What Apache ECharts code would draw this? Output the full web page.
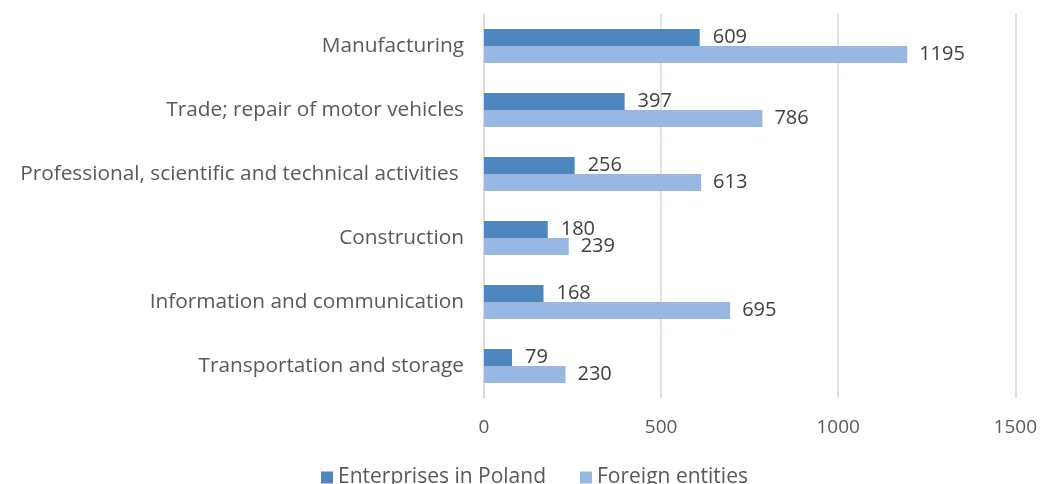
<!DOCTYPE html>
<html>
<head>
<meta charset="utf-8">
<script src="https://cdn.jsdelivr.net/npm/echarts@6/dist/echarts.min.js"></script>
<style>
  html, body { margin: 0; padding: 0; background: #fff; }
  #main { width: 1040px; height: 484px; }
</style>
</head>
<body>
<div id="main"></div>
<script>
var categories = [
    'Manufacturing',
    'Trade; repair of motor vehicles',
    'Professional, scientific and technical activities ',
    'Construction',
    'Information and communication',
    'Transportation and storage'
];
var poland = [609, 397, 256, 180, 168, 79];
var foreign = [1195, 786, 613, 239, 695, 230];
var xTicks = [0, 500, 1000, 1500];

var font = '"Open Sans", "Noto Sans", sans-serif';

var myChart = echarts.init(document.getElementById('main'));
var option = {
    backgroundColor: '#fff',
    animation: false,
    textStyle: { fontFamily: font },
    grid: { left: 484, right: 23, top: 14, bottom: 86 },
    legend: {
        bottom: -9,
        left: 316,
        icon: 'rect',
        itemWidth: 12,
        itemHeight: 12,
        itemGap: 34,
        itemTextGap: 5,
        textStyle: { fontSize: 21, color: '#595959', fontFamily: font },
        data: ['Enterprises in Poland', 'Foreign entities']
    },
    xAxis: {
        type: 'value',
        min: xTicks[0],
        max: xTicks[xTicks.length - 1],
        interval: 500,
        axisLine: { show: false },
        axisTick: { show: false },
        axisLabel: {
            fontSize: 19, color: '#595959', margin: 20,
            formatter: function (v) { return String(v); }
        },
        splitLine: { lineStyle: { color: '#d9d9d9', width: 1.5 } }
    },
    yAxis: {
        type: 'category',
        inverse: true,
        data: categories,
        axisLine: { show: true, lineStyle: { color: '#d9d9d9', width: 1.5 } },
        axisTick: { show: false },
        axisLabel: { fontSize: 20.8, color: '#595959', margin: 20 }
    },
    series: [
        {
            name: 'Enterprises in Poland',
            type: 'bar',
            data: poland,
            barWidth: 17,
            barGap: '0%',
            itemStyle: { color: '#4e87bd' },
            label: { show: true, position: 'right', distance: 13, fontSize: 20, color: '#404040' }
        },
        {
            name: 'Foreign entities',
            type: 'bar',
            data: foreign,
            barWidth: 17,
            barGap: '0%',
            itemStyle: { color: '#96b8e0' },
            label: { show: true, position: 'right', distance: 12, fontSize: 20, color: '#404040' }
        }
    ]
};
myChart.setOption(option);
</script>
</body>
</html>
